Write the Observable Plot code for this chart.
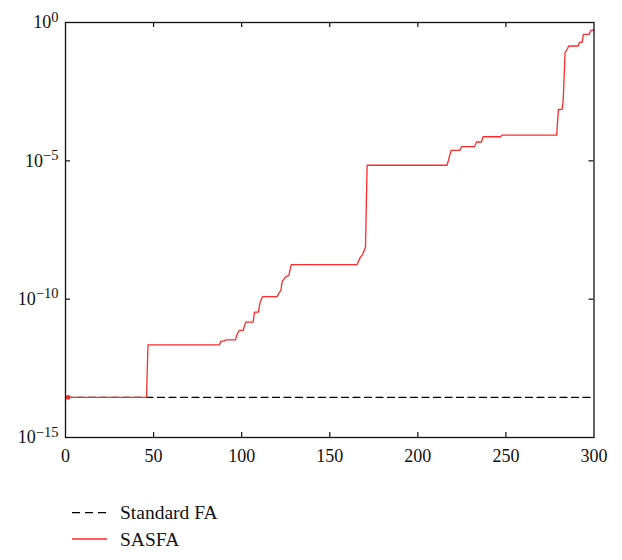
<!DOCTYPE html>
<html>
<head>
<meta charset="utf-8">
<script src="https://cdn.jsdelivr.net/npm/d3@7"></script>
<script src="https://cdn.jsdelivr.net/npm/@observablehq/plot@0.6"></script>
<style>
  body { margin: 0; background: #fff; }
  #chart svg { display: block; }
</style>
</head>
<body>
<div id="chart"></div>
<script>
// ---- data ----
const xTicks = [0, 50, 100, 150, 200, 250, 300];
const yTicks = [1e-15, 1e-10, 1e-5, 1e0];
const yTickLabels = ["10^−15", "10^−10", "10^−5", "10^0"];

const standardIter = [0, 300];
const standardLog10 = [-13.55, -13.55];

const sasfaIter = [0, 46, 46.8, 87.4, 88.2, 90, 91, 96.5, 97.5, 98.8, 100.8, 102.3, 106.5, 107.3, 109.5, 110.5, 111.8, 120.1, 121.4, 122.2, 123, 124.9, 126.8, 128.1, 165.5, 167.4, 168.5, 170.3, 171.2, 216.6, 218.9, 223.8, 224.9, 232.1, 233.4, 236.1, 237, 246.9, 247.8, 278.8, 279.8, 281.9, 282.5, 283.6, 284.3, 285.7, 291, 291.7, 293.2, 294, 297.2, 298.2, 300];
const sasfaLog10 = [-13.55, -13.55, -11.65, -11.65, -11.52, -11.52, -11.47, -11.47, -11.25, -11.13, -11.13, -10.83, -10.83, -10.47, -10.47, -10.1, -9.91, -9.91, -9.75, -9.7, -9.36, -9.2, -9.14, -8.75, -8.75, -8.48, -8.4, -8.12, -5.16, -5.16, -4.62, -4.62, -4.49, -4.49, -4.32, -4.32, -4.13, -4.13, -4.07, -4.07, -3.14, -3.14, -2.83, -1.08, -1.02, -0.85, -0.85, -0.72, -0.72, -0.43, -0.43, -0.29, -0.26];

const startDot = [{x: 1.5, v: -13.55}];

const seriesNames = ["Standard FA", "SASFA"];
const seriesColors = ["#000000", "#ff2a2a"];

// ---- build tables ----
const standard = standardIter.map((x, i) => ({x, y: Math.pow(10, standardLog10[i])}));
const sasfa = sasfaIter.map((x, i) => ({x, y: Math.pow(10, sasfaLog10[i])}));
const dot = startDot.map(d => ({x: d.x, y: Math.pow(10, d.v)}));

const W = 622, H = 470;
const mT = 22, mB = 33, mL = 65, mR = 28.5;
const innerH = H - mT - mB, innerW = W - mL - mR;
const font = "'Liberation Serif', 'DejaVu Serif', serif";

const plot = Plot.plot({
  width: W,
  height: H,
  marginTop: mT,
  marginBottom: mB,
  marginLeft: mL,
  marginRight: mR,
  style: {fontFamily: font, fontSize: "18px", color: "#111", background: "#fff"},
  x: {domain: [0, 300]},
  y: {type: "log", domain: [1e-15, 1e0]},
  marks: [
    Plot.axisX(xTicks, {tickSize: 0, tickPadding: 12, label: null}),
    Plot.axisY(yTicks, {tickSize: 0, tickPadding: 7, label: null,
      tickFormat: (d) => yTickLabels[yTicks.indexOf(d)]}),
    // inward ticks
    Plot.tickX(xTicks.slice(1, -1), {x: d => d, insetTop: innerH - 5, stroke: "#111", strokeWidth: 1.2}),
    Plot.tickX(xTicks.slice(1, -1), {x: d => d, insetBottom: innerH - 5, stroke: "#111", strokeWidth: 1.2}),
    Plot.tickY(yTicks.slice(1, -1), {y: d => d, insetRight: innerW - 5, stroke: "#111", strokeWidth: 1.2}),
    Plot.tickY(yTicks.slice(1, -1), {y: d => d, insetLeft: innerW - 5, stroke: "#111", strokeWidth: 1.2}),
    Plot.line(standard, {x: "x", y: "y", stroke: seriesColors[0], strokeWidth: 1.2, strokeDasharray: "7,4.5"}),
    Plot.line(sasfa, {x: "x", y: "y", stroke: seriesColors[1], strokeWidth: 1.3}),
    Plot.dot(dot, {x: "x", y: "y", r: 2.3, fill: seriesColors[1], stroke: null}),
    Plot.frame({stroke: "#111", strokeWidth: 1.3})
  ]
});

// force tick label font size
d3.select(plot).selectAll("g[aria-label$='tick label']").attr("font-size", "18px");

// superscript exponents on y tick labels
d3.select(plot).selectAll("g[aria-label='y-axis tick label'] text").each(function() {
  const t = this.textContent;
  const parts = t.split("^");
  if (parts.length === 2) {
    const sel = d3.select(this);
    sel.text(null);
    sel.append("tspan").text(parts[0]);
    sel.append("tspan").attr("dy", "-0.45em").attr("font-size", "14.5px").text(parts[1]);
  }
});

document.getElementById("chart").appendChild(plot);

// legend below the chart
const leg = d3.select("#chart").append("svg")
  .attr("width", W).attr("height", 90)
  .style("font-family", font);
seriesNames.forEach((name, i) => {
  const y = 42.7 + i * 26.3;
  leg.append("line").attr("x1", 72).attr("x2", 107).attr("y1", y).attr("y2", y)
    .attr("stroke", seriesColors[i]).attr("stroke-width", 1.3)
    .attr("stroke-dasharray", i === 0 ? "8,5" : null);
  leg.append("text").attr("x", 120).attr("y", y + 6.5).attr("fill", "#111")
    .attr("font-size", "19.5px").text(name);
});
</script>
</body>
</html>
